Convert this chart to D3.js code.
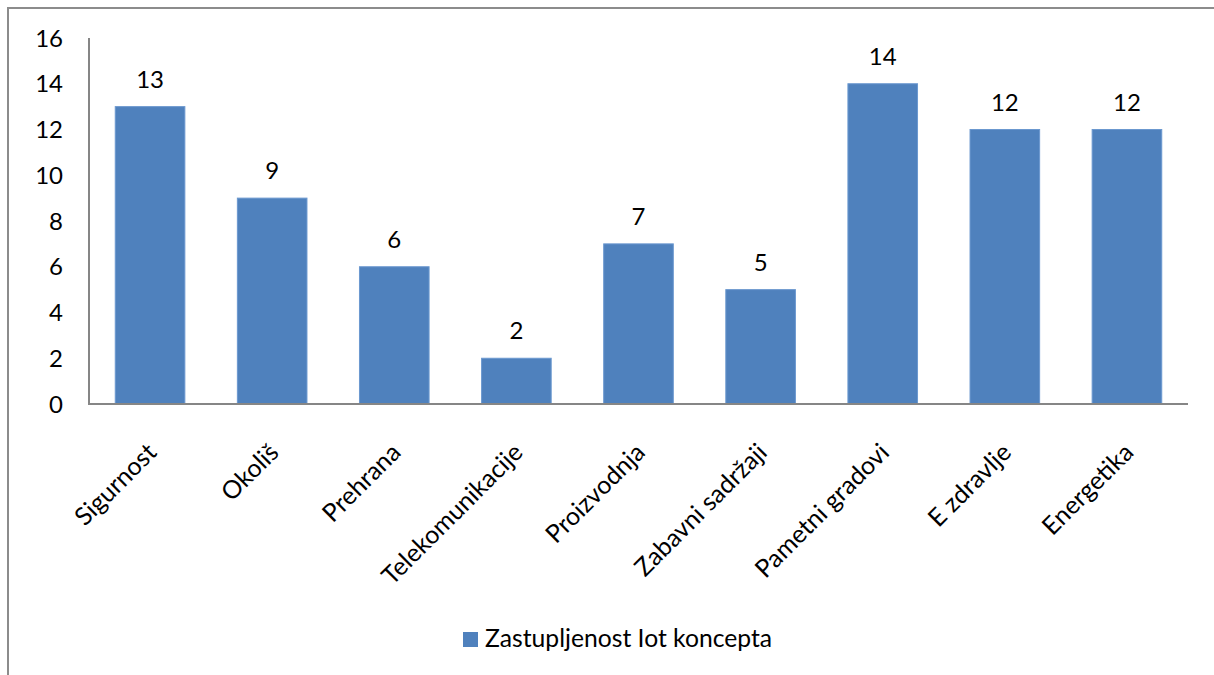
<!DOCTYPE html>
<html lang="hr">
<head>
<meta charset="utf-8">
<title>Zastupljenost IoT koncepta</title>
<script src="https://d3js.org/d3.v7.min.js"></script>
<style>
  body { margin: 0; background: #fff; }
  text { font-family: Lato, "Open Sans", sans-serif; fill: #000; }
</style>
</head>
<body>
<script>
// data
var categories = ["Sigurnost", "Okoliš", "Prehrana", "Telekomunikacije", "Proizvodnja",
                  "Zabavni sadržaji", "Pametni gradovi", "E zdravlje", "Energetika"];
var values = [13, 9, 6, 2, 7, 5, 14, 12, 12];
var yTicks = [0, 2, 4, 6, 8, 10, 12, 14, 16];
var seriesName = "Zastupljenost Iot koncepta";

var width = 1214, height = 675;
var barColor = "#4F81BD", axisColor = "#868686";

var svg = d3.select("body").append("svg")
    .attr("width", width)
    .attr("height", height);

// outer chart frame (only top and left edges visible)
svg.append("path")
    .attr("d", "M8," + height + "V8H" + width)
    .attr("fill", "none")
    .attr("stroke", "#8c8c8c")
    .attr("stroke-width", 2);

var x = d3.scaleBand()
    .domain(categories)
    .range([89, 1188])
    .paddingInner(0.43)
    .paddingOuter(0.215);

var band = d3.scaleBand().domain(categories).range([89, 1188]);

var y = d3.scaleLinear()
    .domain([0, 16])
    .range([404, 38]);

// bars
svg.selectAll("rect.bar")
    .data(values)
    .enter().append("rect")
    .attr("class", "bar")
    .attr("x", function(d, i) { return x(categories[i]); })
    .attr("width", x.bandwidth())
    .attr("y", function(d) { return y(d); })
    .attr("height", function(d) { return y(0) - y(d); })
    .attr("fill", barColor)
    .attr("stroke", "#6b98cf")
    .attr("stroke-width", 1);

// value labels
svg.selectAll("text.val")
    .data(values)
    .enter().append("text")
    .attr("class", "val")
    .attr("x", function(d, i) { return band(categories[i]) + band.bandwidth() / 2; })
    .attr("y", function(d) { return y(d) - 19; })
    .attr("text-anchor", "middle")
    .attr("font-size", 24)
    .text(function(d) { return d; });

// y axis
svg.append("line")
    .attr("x1", 89).attr("x2", 89)
    .attr("y1", y(16)).attr("y2", y(0))
    .attr("stroke", axisColor).attr("stroke-width", 2);

svg.selectAll("text.ytick")
    .data(yTicks)
    .enter().append("text")
    .attr("class", "ytick")
    .attr("x", 63)
    .attr("y", function(d) { return y(d); })
    .attr("dy", "0.36em")
    .attr("text-anchor", "end")
    .attr("font-size", 24)
    .text(function(d) { return d; });

// x axis
svg.append("line")
    .attr("x1", 88).attr("x2", 1188)
    .attr("y1", y(0)).attr("y2", y(0))
    .attr("stroke", axisColor).attr("stroke-width", 2);

svg.selectAll("text.xlab")
    .data(categories)
    .enter().append("text")
    .attr("class", "xlab")
    .attr("transform", function(d) {
        var cx = band(d) + band.bandwidth() / 2;
        return "translate(" + (cx + 8) + ",454) rotate(-45)";
    })
    .attr("text-anchor", "end")
    .attr("font-size", 25)
    .text(function(d) { return d; });

// legend
var legend = svg.append("g").attr("transform", "translate(463,632)");
legend.append("rect")
    .attr("width", 15).attr("height", 15)
    .attr("fill", barColor);
legend.append("text")
    .attr("x", 22).attr("y", 15)
    .attr("font-size", 24.7)
    .text(seriesName);
</script>
</body>
</html>
